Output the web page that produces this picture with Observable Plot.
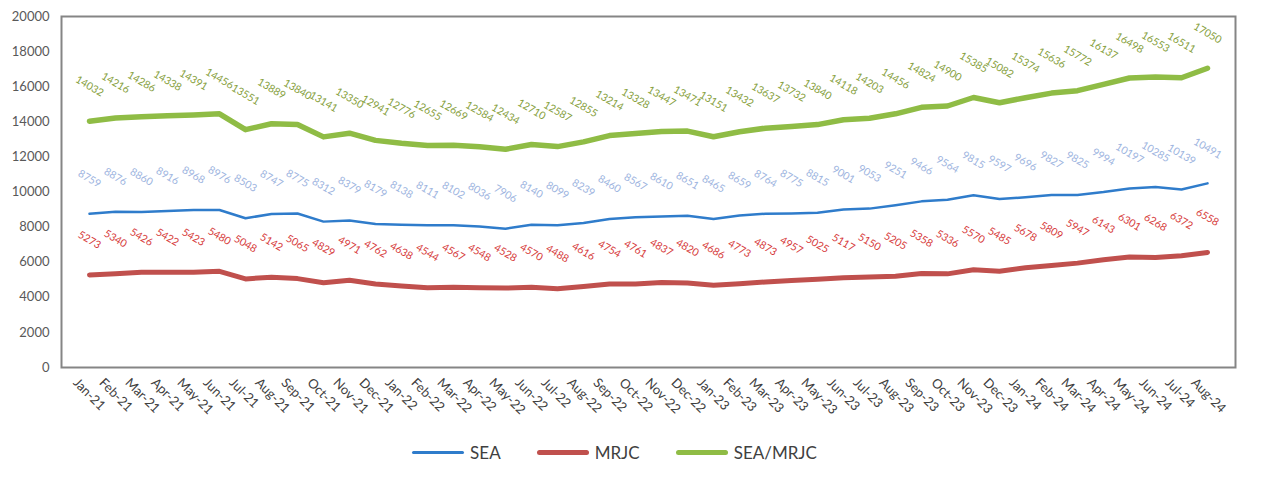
<!DOCTYPE html>
<html>
<head>
<meta charset="utf-8">
<script src="https://cdn.jsdelivr.net/npm/d3@7"></script>
<script src="https://cdn.jsdelivr.net/npm/@observablehq/plot@0.6"></script>
<style>
  html, body { margin: 0; padding: 0; background: #fff; }
  body { width: 1265px; height: 493px; overflow: hidden; font-family: Lato, "Open Sans", sans-serif; }
  #legend { display: flex; justify-content: center; align-items: center; margin-top: 12px; padding-left: 0px; font-size: 17px; color: #404040; }
  .item { display: flex; align-items: center; margin: 0 36px 0 0; }
  .sw { display: inline-block; width: 52px; border-radius: 3px; margin-right: 6px; }
</style>
</head>
<body>
<div id="chart"></div>
<div id="legend"></div>
<script>
const months = ["Jan-21","Feb-21","Mar-21","Apr-21","May-21","Jun-21","Jul-21","Aug-21","Sep-21","Oct-21","Nov-21","Dec-21",
  "Jan-22","Feb-22","Mar-22","Apr-22","May-22","Jun-22","Jul-22","Aug-22","Sep-22","Oct-22","Nov-22","Dec-22",
  "Jan-23","Feb-23","Mar-23","Apr-23","May-23","Jun-23","Jul-23","Aug-23","Sep-23","Oct-23","Nov-23","Dec-23",
  "Jan-24","Feb-24","Mar-24","Apr-24","May-24","Jun-24","Jul-24","Aug-24"];

const sea = [8759,8876,8860,8916,8968,8976,8503,8747,8775,8312,8379,8179,
  8138,8111,8102,8036,7906,8140,8099,8239,8460,8567,8610,8651,
  8465,8659,8764,8775,8815,9001,9053,9251,9466,9564,9815,9597,
  9696,9827,9825,9994,10197,10285,10139,10491];

const mrjc = [5273,5340,5426,5422,5423,5480,5048,5142,5065,4829,4971,4762,
  4638,4544,4567,4548,4528,4570,4488,4616,4754,4761,4837,4820,
  4686,4773,4873,4957,5025,5117,5150,5205,5358,5336,5570,5485,
  5678,5809,5947,6143,6301,6268,6372,6558];

const seaMrjc = [14032,14216,14286,14338,14391,14456,13551,13889,13840,13141,13350,12941,
  12776,12655,12669,12584,12434,12710,12587,12855,13214,13328,13447,13471,
  13151,13432,13637,13732,13840,14118,14203,14456,14824,14900,15385,15082,
  15374,15636,15772,16137,16498,16553,16511,17050];

const yTicks = [0,2000,4000,6000,8000,10000,12000,14000,16000,18000,20000];

const seriesNames = ["SEA","MRJC","SEA/MRJC"];
const lineColors = {"SEA":"#2f7ccb","MRJC":"#c0504d","SEA/MRJC":"#8fbc45"};
const labelColors = {"SEA":"#9db4e0","MRJC":"#d63a3a","SEA/MRJC":"#86a03c"};
const widths = {"SEA":2.5,"MRJC":5,"SEA/MRJC":5.5};

const valuesBy = {"SEA": sea, "MRJC": mrjc, "SEA/MRJC": seaMrjc};
const rows = seriesNames.flatMap(s => months.map((m, i) => ({series: s, month: m, value: valuesBy[s][i]})));

const marks = [];
for (const s of seriesNames) {
  const d = rows.filter(r => r.series === s);
  marks.push(Plot.line(d, {x: "month", y: "value", stroke: lineColors[s], strokeWidth: widths[s], strokeLinejoin: "round", strokeLinecap: "round"}));
}
for (const s of seriesNames) {
  const d = rows.filter(r => r.series === s);
  marks.push(Plot.text(d, {x: "month", y: "value", text: r => String(r.value), rotate: 30, dy: -35, fill: labelColors[s], fontSize: 10.5, textAnchor: "middle"}));
}

const plot = Plot.plot({
  width: 1265,
  height: 430,
  marginLeft: 61,
  marginRight: 30,
  marginTop: 16,
  marginBottom: 63,
  style: {fontFamily: "Lato, 'Open Sans', sans-serif", background: "#fff"},
  x: {type: "point", domain: months, padding: 0.5, axis: null},
  y: {domain: [0, 20000], axis: null},
  marks: [
    Plot.axisY({ticks: yTicks, tickFormat: d => String(d), tickSize: 0, tickPadding: 12, fontSize: 13, color: "#595959", label: null}),
    Plot.text(months, {x: d => d, frameAnchor: "bottom", dx: -17, dy: 16, rotate: 45, textAnchor: "start", fontSize: 13, fill: "#404040"}),
    Plot.frame({stroke: "#858585", strokeWidth: 2}),
    ...marks
  ]
});
document.getElementById("chart").appendChild(plot);

const legend = document.getElementById("legend");
for (const s of seriesNames) {
  const item = document.createElement("div");
  item.className = "item";
  const sw = document.createElement("span");
  sw.className = "sw";
  sw.style.height = (s === "SEA" ? 3 : 5) + "px";
  sw.style.background = lineColors[s];
  item.appendChild(sw);
  const t = document.createElement("span");
  t.textContent = s;
  item.appendChild(t);
  legend.appendChild(item);
}
</script>
</body>
</html>
